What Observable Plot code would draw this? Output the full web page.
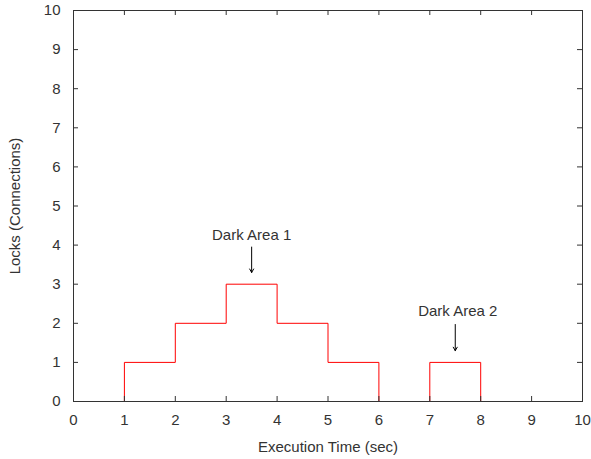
<!DOCTYPE html>
<html>
<head>
<meta charset="utf-8">
<script src="https://cdn.jsdelivr.net/npm/d3@7"></script>
<script src="https://cdn.jsdelivr.net/npm/@observablehq/plot@0.6"></script>
<style>
  html, body { margin: 0; padding: 0; background: #fff; }
  svg { display: block; }
</style>
</head>
<body>
<div id="chart"></div>
<script>
// Data
const times = [0, 1, 2, 3, 4, 5, 6, 7, 8, 9, 10];
const locks = [0, 1, 2, 3, 2, 1, 0, 1, 0, 0, 0];
const xTicks = [0, 1, 2, 3, 4, 5, 6, 7, 8, 9, 10];
const yTicks = [0, 1, 2, 3, 4, 5, 6, 7, 8, 9, 10];
const noteLabels = ["Dark Area 1", "Dark Area 2"];
const noteTextX = [3.5, 7.55];
const noteTextY = [4.25, 2.3];
const noteArrowX = [3.5, 7.5];
const noteArrowFrom = [3.95, 1.97];
const noteArrowTo = [3.3, 1.3];

const series = times.map((t, i) => ({t, v: locks[i]}));
const notes = noteLabels.map((label, i) => ({
  label, tx: noteTextX[i], ty: noteTextY[i],
  ax: noteArrowX[i], y1: noteArrowFrom[i], y2: noteArrowTo[i]
}));

const W = 591, H = 459;
const mL = 73, mR = 9, mT = 10, mB = 58;
const innerW = W - mL - mR, innerH = H - mT - mB;
const tickLen = 5;
const ink = "#333";

const chart = Plot.plot({
  width: W,
  height: H,
  marginLeft: mL,
  marginRight: mR,
  marginTop: mT,
  marginBottom: mB,
  style: {fontFamily: "'Liberation Sans', Arial, sans-serif", fontSize: "15px", color: ink, background: "#fff"},
  x: {domain: [0, 10]},
  y: {domain: [0, 10]},
  marks: [
    Plot.line(series, {x: "t", y: "v", curve: "step-after", stroke: "#ff0000", strokeWidth: 1}),
    // inward ticks bottom/top
    Plot.tickX(xTicks.slice(1, -1), {x: d => d, insetTop: innerH - tickLen, stroke: ink}),
    Plot.tickX(xTicks.slice(1, -1), {x: d => d, insetBottom: innerH - tickLen, stroke: ink}),
    // inward ticks left/right
    Plot.tickY(yTicks.slice(1, -1), {y: d => d, insetRight: innerW - tickLen, stroke: ink}),
    Plot.tickY(yTicks.slice(1, -1), {y: d => d, insetLeft: innerW - tickLen, stroke: ink}),
    Plot.frame({stroke: ink}),
    Plot.axisX({ticks: xTicks, tickSize: 0, tickPadding: 13, label: "Execution Time (sec)", labelAnchor: "center", labelArrow: "none", labelOffset: 50, fontSize: 15}),
    Plot.axisY({ticks: yTicks, tickSize: 0, tickPadding: 13, label: "Locks (Connections)", labelAnchor: "center", labelArrow: "none", labelOffset: 64, fontSize: 15}),
    Plot.text(notes, {x: "tx", y: "ty", text: "label", fill: ink, fontSize: 15}),
    Plot.arrow(notes, {x1: "ax", x2: "ax", y1: "y1", y2: "y2", stroke: "#000", strokeWidth: 1, headLength: 6})
  ]
});
document.getElementById("chart").appendChild(chart);
</script>
</body>
</html>
